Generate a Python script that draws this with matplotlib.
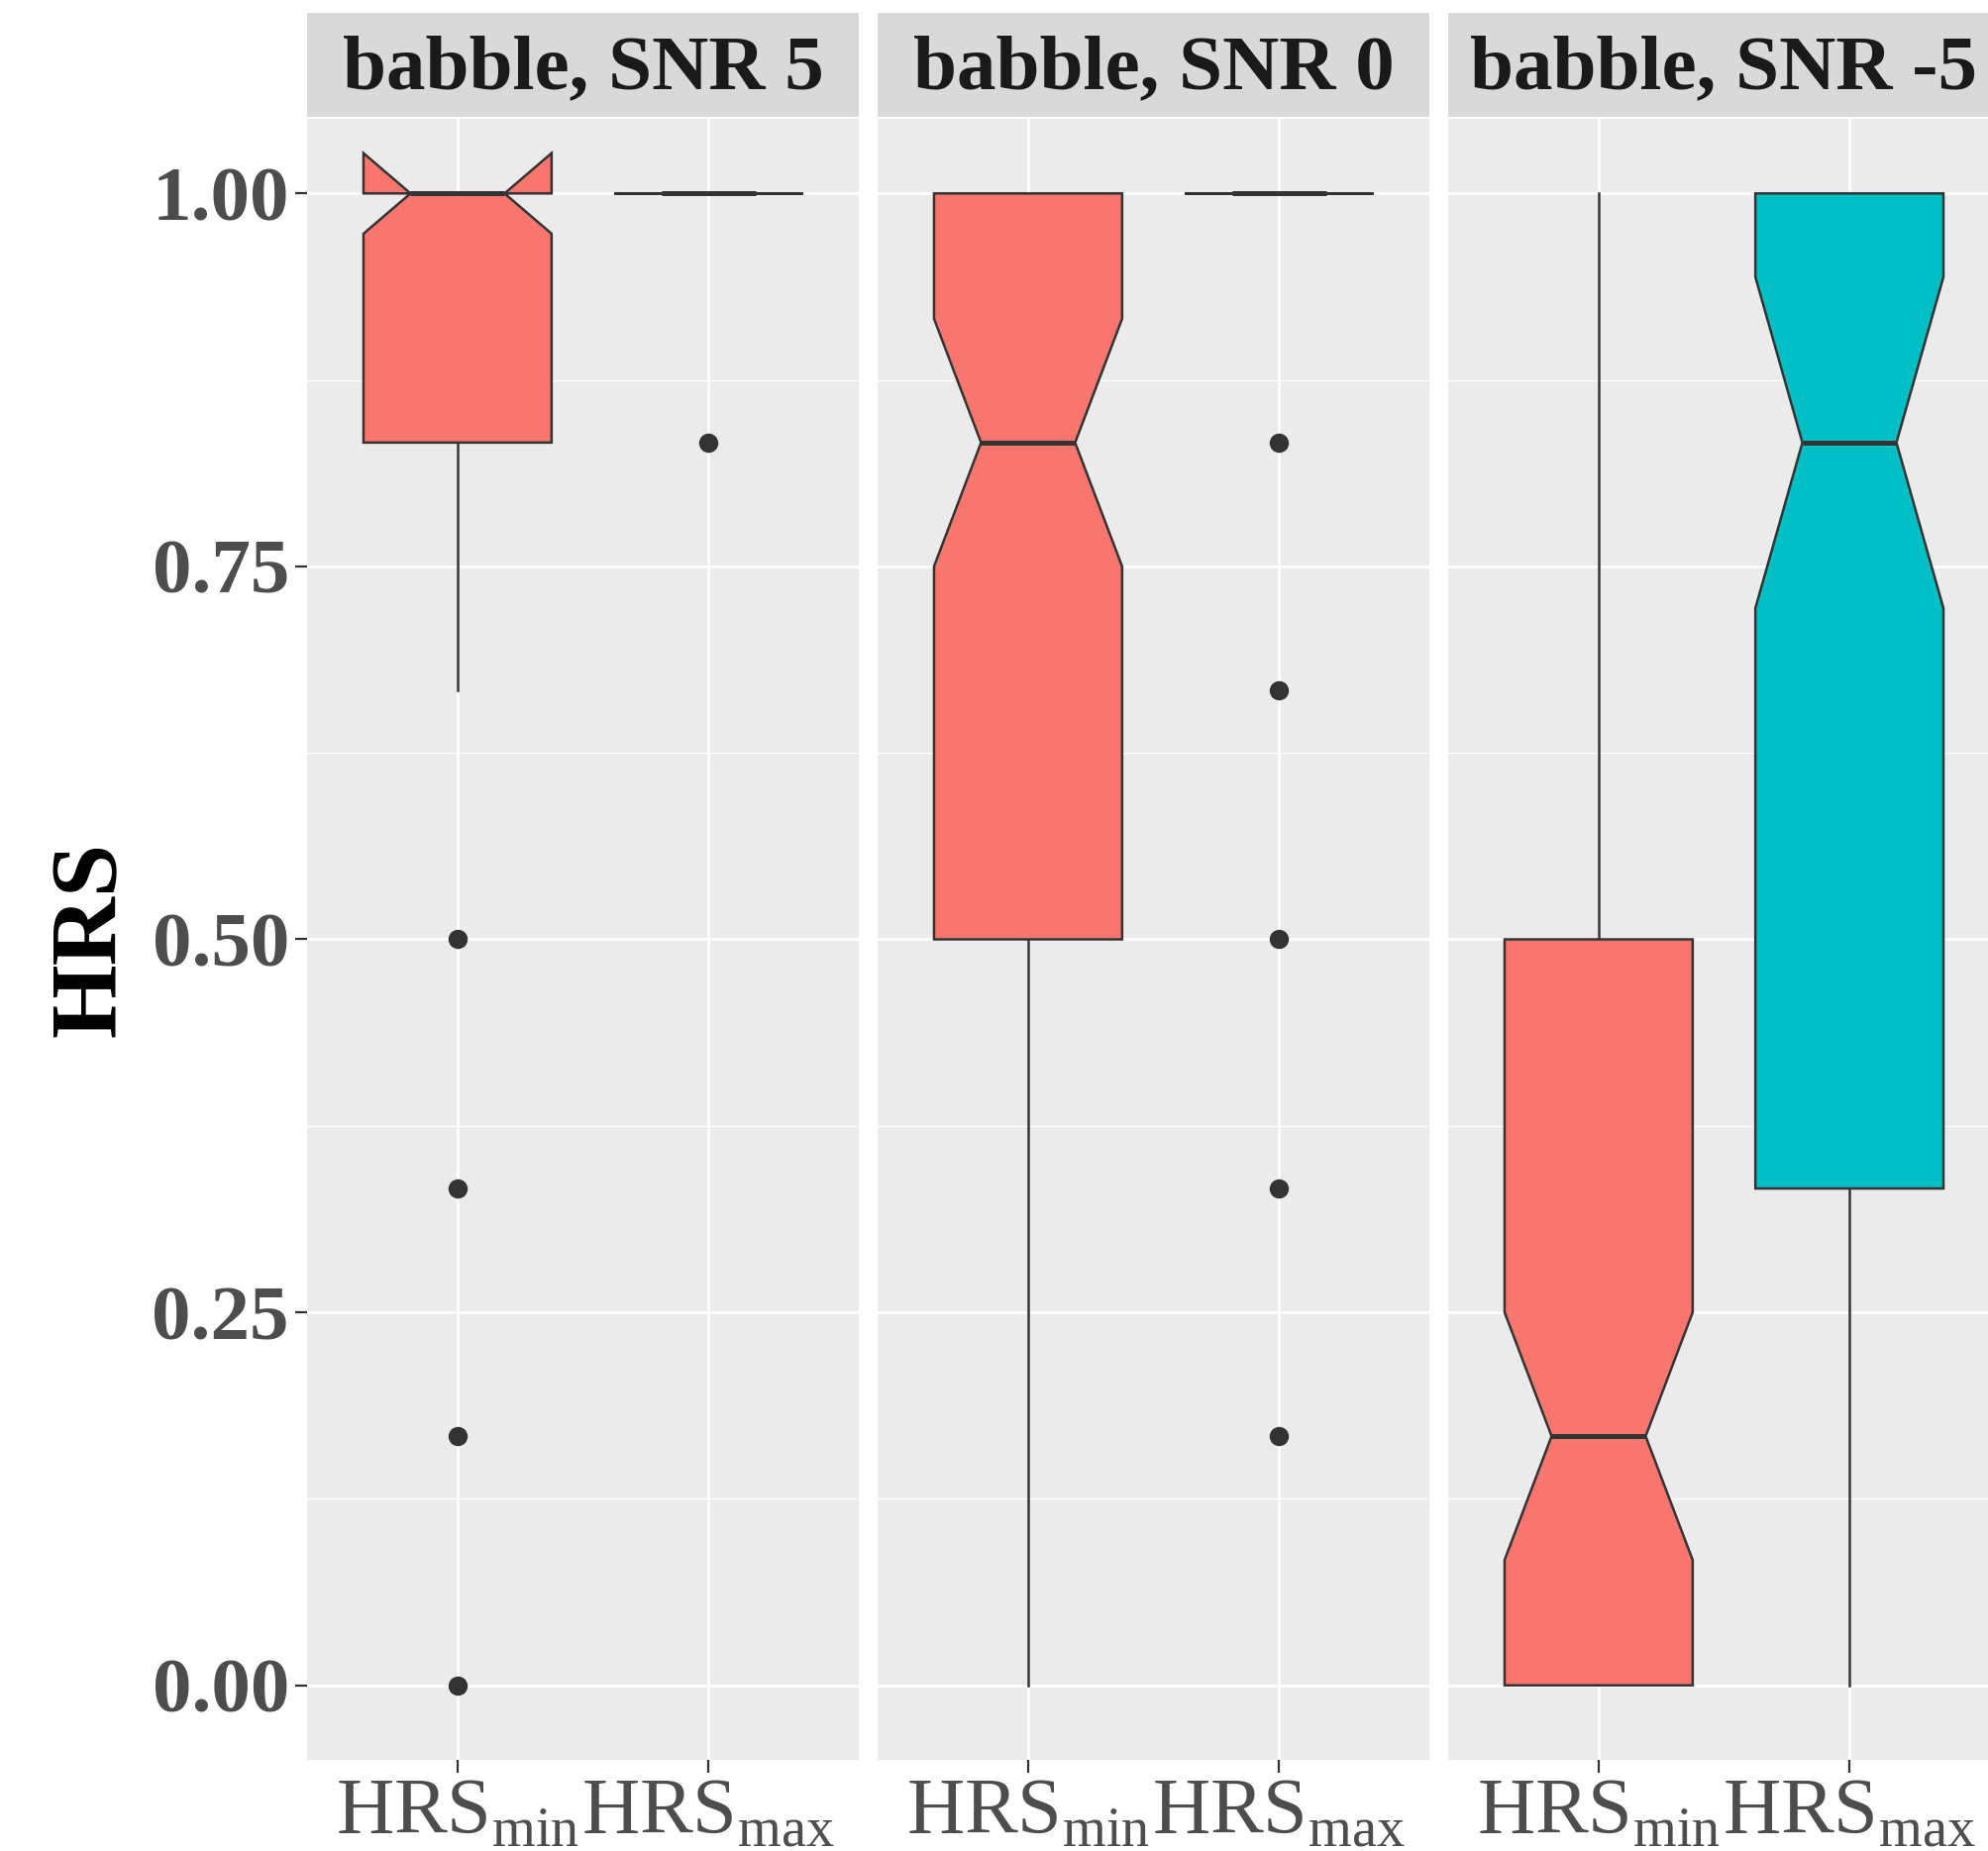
import matplotlib
matplotlib.use("Agg")
import matplotlib.pyplot as plt
from matplotlib.patches import Polygon, Rectangle

plt.rcParams['font.family'] = ['Liberation Serif', 'DejaVu Serif']
plt.rcParams['mathtext.fontset'] = 'custom'
plt.rcParams['mathtext.rm'] = 'Liberation Serif'

# facet titles and box labels
panels = ['babble, SNR 5', 'babble, SNR 0', 'babble, SNR -5']
groups = [r'$\mathrm{HRS}_{\mathrm{min}}$', r'$\mathrm{HRS}_{\mathrm{max}}$']

# box statistics per panel: [HRS_min, HRS_max]
q1 = [[0.833, 1.0], [0.5, 1.0], [0.0, 0.333]]
median = [[1.0, 1.0], [0.833, 1.0], [0.167, 0.833]]
q3 = [[1.0, 1.0], [1.0, 1.0], [0.5, 1.0]]
notch_lo = [[0.973, 1.0], [0.75, 1.0], [0.084, 0.722]]
notch_hi = [[1.027, 1.0], [0.916, 1.0], [0.25, 0.944]]
whisk_lo = [[0.667, 1.0], [0.0, 1.0], [0.0, 0.0]]
whisk_hi = [[1.0, 1.0], [1.0, 1.0], [1.0, 1.0]]
outliers = [
    [[0.5, 0.333, 0.167, 0.0], [0.833]],
    [[], [0.833, 0.667, 0.5, 0.333, 0.167]],
    [[], []],
]
fills = [['#F8766D', '#F8766D'], ['#F8766D', '#F8766D'], ['#F8766D', '#00BFC4']]

yticks = [0.0, 0.25, 0.5, 0.75, 1.0]
ytick_labels = ['0.00', '0.25', '0.50', '0.75', '1.00']

W, H = 2008, 1869
fig = plt.figure(figsize=(W / 100, H / 100), dpi=100)

edge = '#333333'
box_w = 0.75
panel_left = [310, 886, 1462]
panel_w = 557
top, bottom = 120, 1777
strip_top, strip_bot = 13, 118

for p, title in enumerate(panels):
    ax = fig.add_axes([panel_left[p] / W, 1 - bottom / H,
                       panel_w / W, (bottom - top) / H])
    ax.set_facecolor('#EBEBEB')
    ax.set_xlim(0.4, 2.6)
    ax.set_ylim(-0.05, 1.05)
    for s in ax.spines.values():
        s.set_visible(False)
    ax.set_yticks(yticks)
    ax.set_yticks([0.125, 0.375, 0.625, 0.875], minor=True)
    ax.set_xticks([1, 2])
    ax.grid(which='major', color='white', linewidth=2.0)
    ax.grid(which='minor', axis='y', color='white', linewidth=1.0)
    ax.set_axisbelow(True)
    ax.tick_params(which='major', length=9, width=1.6, color=edge, pad=4)
    ax.tick_params(which='minor', length=0)
    ax.set_xticklabels(groups, fontsize=58, color='#4D4D4D')
    if p == 0:
        ax.set_yticklabels(ytick_labels, fontsize=57, fontweight='bold',
                           color='#4D4D4D')
        ax.set_ylabel('HRS', fontsize=69, fontweight='bold', color='black',
                      labelpad=12)
    else:
        ax.set_yticklabels([])
        ax.tick_params(axis='y', which='major', length=0)

    for g in range(2):
        x = g + 1
        hw, qw = box_w / 2, box_w / 4
        # whiskers
        ax.plot([x, x], [q3[p][g], whisk_hi[p][g]], color=edge, lw=1.8, zorder=2)
        ax.plot([x, x], [whisk_lo[p][g], q1[p][g]], color=edge, lw=1.8, zorder=2)
        # notched box
        verts = [(x - hw, q1[p][g]), (x - hw, notch_lo[p][g]),
                 (x - qw, median[p][g]), (x - hw, notch_hi[p][g]),
                 (x - hw, q3[p][g]), (x + hw, q3[p][g]),
                 (x + hw, notch_hi[p][g]), (x + qw, median[p][g]),
                 (x + hw, notch_lo[p][g]), (x + hw, q1[p][g])]
        ax.add_patch(Polygon(verts, closed=True, facecolor=fills[p][g],
                             edgecolor=edge, linewidth=1.8,
                             joinstyle='miter', zorder=3))
        ax.plot([x - qw, x + qw], [median[p][g]] * 2, color=edge, lw=3.6,
                solid_capstyle='butt', zorder=4)
        if outliers[p][g]:
            ax.plot([x] * len(outliers[p][g]), outliers[p][g], 'o',
                    color=edge, markersize=14, markeredgewidth=0, zorder=5)

    # facet strip
    sax = fig.add_axes([panel_left[p] / W, 1 - strip_bot / H,
                        panel_w / W, (strip_bot - strip_top) / H])
    sax.set_xlim(0, 1)
    sax.set_ylim(0, 1)
    sax.axis('off')
    sax.add_patch(Rectangle((0, 0), 1, 1, facecolor='#D9D9D9',
                            edgecolor='none'))
    sax.text(0.5, 0.45, title, ha='center', va='center', fontsize=57,
             fontweight='bold', color='#1A1A1A')

fig.savefig('out.png', dpi=100)
